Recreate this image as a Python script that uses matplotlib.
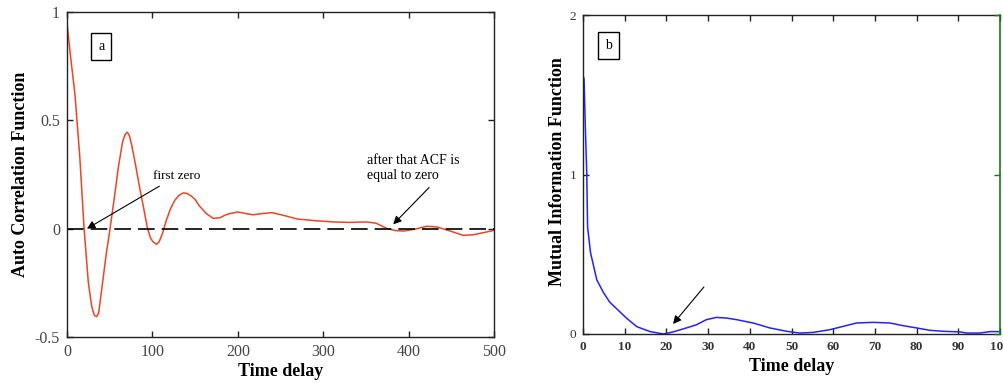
import matplotlib
matplotlib.use("Agg")
import matplotlib.pyplot as plt

plt.rcParams['font.family'] = ['Liberation Serif', 'DejaVu Serif']

# ---- Data: Auto Correlation Function (panel a)
acf_lag = [0, 4, 9.3, 15, 20, 25, 29, 32, 34.7, 37, 40, 46, 50.4, 55, 60, 65, 68, 70.6,
           73, 76, 80, 85, 90, 94, 98, 101, 105, 108, 112, 116, 121, 126, 131, 136,
           140, 145, 150, 155, 163, 171, 179, 185, 190, 200, 209, 218, 229, 240, 255,
           269, 290, 312, 330, 351, 362, 375, 385, 394, 408, 421, 433, 448, 464, 476,
           488, 500]
acf_val = [0.95, 0.80, 0.62, 0.33, 0.0, -0.25, -0.36, -0.40, -0.406, -0.39, -0.30,
           -0.115, 0.0, 0.13, 0.28, 0.40, 0.435, 0.445, 0.43, 0.38, 0.30, 0.19, 0.09,
           0.005, -0.045, -0.062, -0.072, -0.06, -0.02, 0.035, 0.09, 0.13, 0.153,
           0.165, 0.163, 0.152, 0.135, 0.105, 0.07, 0.048, 0.05, 0.062, 0.069, 0.077,
           0.07, 0.064, 0.07, 0.074, 0.06, 0.045, 0.037, 0.031, 0.029, 0.031, 0.025,
           0.0, -0.009, -0.011, -0.002, 0.011, 0.008, -0.01, -0.031, -0.028, -0.018,
           -0.008]

# ---- Data: Mutual Information Function (panel b)
mi_lag = [0, 0.25, 0.6, 0.9, 1.1, 1.8, 3.3, 4.9, 6.4, 8.0, 10.4, 12.9, 16.1, 19.3,
          21.6, 24.8, 27.2, 29.6, 32, 34.4, 36.8, 40.8, 44.8, 48.8, 52, 55.2, 59.2,
          62.4, 65.6, 69.6, 73.6, 76.8, 80, 83.2, 86.4, 90.4, 92, 95.2, 97.6, 100]
mi_val = [1.62, 1.60, 1.26, 1.01, 0.67, 0.51, 0.34, 0.26, 0.20, 0.16, 0.10, 0.046,
          0.015, 0.0, 0.013, 0.038, 0.058, 0.09, 0.104, 0.10, 0.09, 0.069, 0.038,
          0.017, 0.006, 0.01, 0.027, 0.048, 0.069, 0.073, 0.069, 0.052, 0.038, 0.023,
          0.017, 0.013, 0.006, 0.006, 0.015, 0.015]

acf_xticks = [0, 100, 200, 300, 400, 500]
acf_yticks = [-0.5, 0, 0.5, 1]
acf_yticklabels = ['-0.5', '0', '0.5', '1']
mi_xticks = [0, 10, 20, 30, 40, 50, 60, 70, 80, 90, 100]
mi_yticks = [0, 1, 2]

fig = plt.figure(figsize=(10.04, 3.83), dpi=100)

# ---------------- Panel a ----------------
ax1 = fig.add_axes([67/1004, 1-337/383, 427/1004, 325/383])
ax1.plot(acf_lag, acf_val, color='#ee4422', lw=1.1)
ax1.plot([0, 500], [0, 0], color='black', lw=1.2, linestyle=(0, (10, 4.2)))
ax1.set_xlim(0, 500)
ax1.set_ylim(-0.5, 1)
ax1.set_xticks(acf_xticks)
ax1.set_yticks(acf_yticks)
ax1.set_yticklabels(acf_yticklabels)
ax1.tick_params(direction='in', top=True, right=True, length=4, width=1,
                labelsize=11.5, colors='#222222', labelcolor='#444444', pad=5)
for s in ax1.spines.values():
    s.set_color('#222222')
    s.set_linewidth(1)
ax1.set_xlabel('Time delay', fontsize=13, fontweight='bold')
ax1.xaxis.label.set_va('center')
ax1.xaxis.set_label_coords(0.5, -0.105)
ax1.set_ylabel('Auto Correlation Function', fontsize=13, fontweight='bold')
ax1.yaxis.label.set_va('center')
ax1.yaxis.set_label_coords(-0.108, 0.5)

ax1.text(40, 0.84, 'a', fontsize=10, ha='center', va='center',
         bbox=dict(boxstyle='square,pad=0.5', fc='white', ec='black', lw=1))
ax1.annotate('first zero', xy=(23.4, 0.0), xytext=(100.7, 0.243),
             fontsize=9.5, ha='left', va='center',
             arrowprops=dict(arrowstyle='-|>', color='black', lw=0.8,
                             shrinkA=2, shrinkB=0, mutation_scale=12))
ax1.annotate('', xy=(382, 0.02), xytext=(424, 0.19),
             arrowprops=dict(arrowstyle='-|>', color='black', lw=0.8,
                             shrinkA=0, shrinkB=0, mutation_scale=12))
ax1.text(351, 0.28, 'after that ACF is\nequal to zero', fontsize=10,
         ha='left', va='center', linespacing=1.25)

# ---------------- Panel b ----------------
ax2 = fig.add_axes([583/1004, 1-334/383, 417/1004, 319/383])
ax2.plot(mi_lag, mi_val, color='#2222ff', lw=1.1)
ax2.set_xlim(0, 100)
ax2.set_ylim(0, 2)
ax2.set_xticks(mi_xticks)
ax2.set_yticks(mi_yticks)
ax2.tick_params(direction='in', top=True, right=False, length=4, width=1,
                labelsize=9.5, colors='#222222', labelcolor='#333333', pad=5)
for lab in ax2.get_xticklabels():
    lab.set_fontweight('bold')
for s in ax2.spines.values():
    s.set_color('#222222')
    s.set_linewidth(1)
ax2.spines['right'].set_visible(False)
ax2.set_xlabel('Time delay', fontsize=13, fontweight='bold')
ax2.xaxis.label.set_va('center')
ax2.xaxis.set_label_coords(0.5, -0.103)
ax2.set_ylabel('Mutual Information Function', fontsize=13, fontweight='bold')
ax2.yaxis.label.set_va('center')
ax2.yaxis.set_label_coords(-0.062, 0.51)

ax2.text(6.2, 1.81, 'b', fontsize=10, ha='center', va='center',
         bbox=dict(boxstyle='square,pad=0.5', fc='white', ec='black', lw=1))
ax2.annotate('', xy=(21.6, 0.063), xytext=(29, 0.295),
             arrowprops=dict(arrowstyle='-|>', color='black', lw=0.8,
                             shrinkA=0, shrinkB=0, mutation_scale=12))

ax3 = ax2.twinx()
ax3.set_ylim(0, 2)
ax3.set_yticks(mi_yticks)
for k in ['left', 'top', 'bottom']:
    ax3.spines[k].set_visible(False)
ax3.spines['right'].set_color('#108010')
ax3.spines['right'].set_linewidth(1.2)
ax3.tick_params(direction='in', length=4, width=1, colors='#108010',
                labelsize=9, pad=2, labelcolor='#555555')

fig.savefig('out.png', dpi=100)
